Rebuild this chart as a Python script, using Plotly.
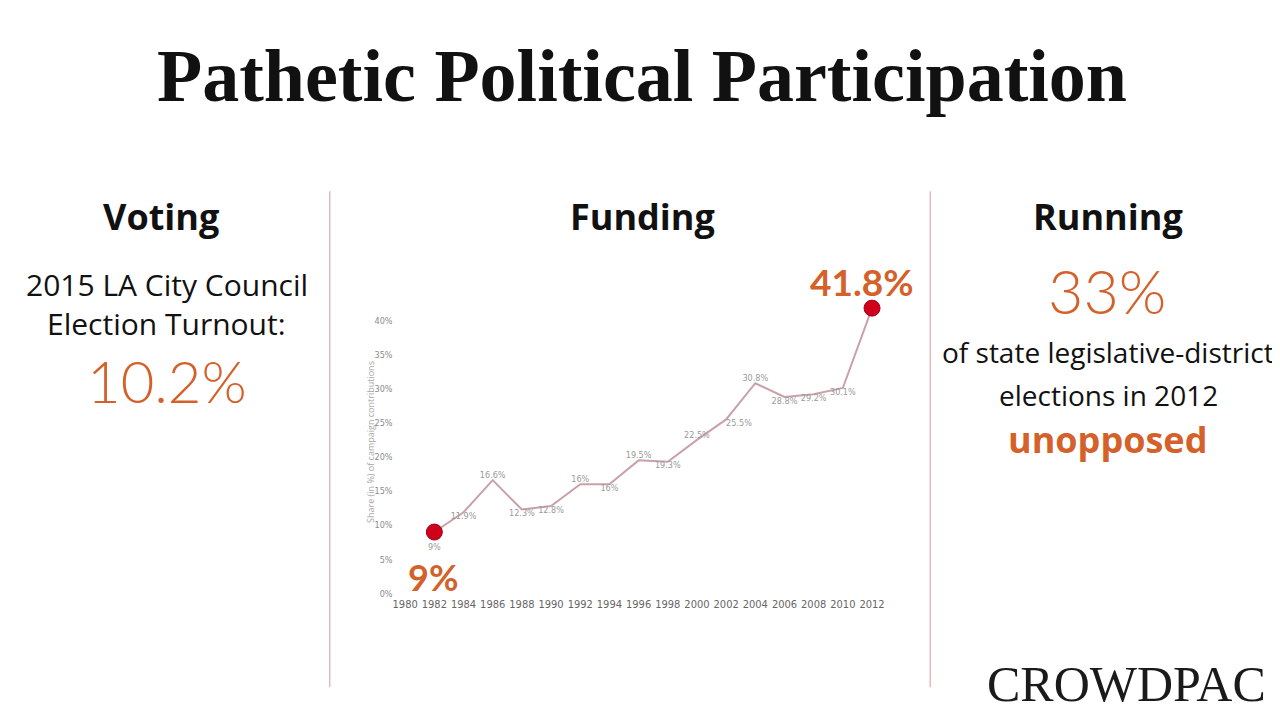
import plotly.graph_objects as go

# ---- data ----
years = [1982, 1984, 1986, 1988, 1990, 1992, 1994, 1996, 1998, 2000, 2002, 2004, 2006, 2008, 2010, 2012]
share = [9, 11.9, 16.6, 12.3, 12.8, 16, 16, 19.5, 19.3, 22.5, 25.5, 30.8, 28.8, 29.2, 30.1, 41.8]
x_ticks = list(range(1980, 2013, 2))
y_ticks = [0, 5, 10, 15, 20, 25, 30, 35, 40]
y_tick_labels = [f"{v}%" for v in y_ticks]

title = "Pathetic Political Participation"
headers = ["Voting", "Funding", "Running"]
voting_lines = ["2015 LA City Council", "Election Turnout:"]
voting_value = "10.2%"
running_value = "33%"
running_lines = ["of state legislative-district", "elections in 2012"]
running_emph = "unopposed"
logo = "CROWDPAC"

ORANGE = "#d4612a"
W, H = 1280, 720
OX, OY = 8, 8  # page body margin compensation


def px(x):
    return (x - OX) / W


def py(y):
    return 1 - (y - OY) / H


# label positions per point (style)
positions = ["bottom center", "bottom center", "top center", "bottom center", "bottom center",
             "top center", "bottom center", "top center", "bottom center", "top center",
             "bottom right", "top center", "bottom center", "bottom center", "bottom center", "top center"]
labels = [f"{v:g}%" for v in share]
labels[-1] = ""
sizes = [16 if i in (0, len(share) - 1) else 0 for i in range(len(share))]

NARROW = "Liberation Sans Narrow, DejaVu Sans Condensed, sans-serif"
SANS = "Open Sans, Lato, sans-serif"

fig = go.Figure()
fig.add_trace(go.Scatter(
    x=years, y=share,
    mode="lines+markers+text",
    line=dict(color="#c9a1a8", width=2),
    marker=dict(size=sizes, color="#d0021b", line=dict(color="#a0001a", width=1), opacity=1),
    text=labels, textposition=positions,
    textfont=dict(family=NARROW, size=9, color="#9a9a9a"),
    cliponaxis=False, hoverinfo="skip", showlegend=False,
))

fig.update_layout(
    width=W, height=H,
    margin=dict(l=0, r=0, t=0, b=0),
    paper_bgcolor="white", plot_bgcolor="white",
    xaxis=dict(domain=[px(392.8), px(893.6)], range=[1979.2, 2013.5],
               tickvals=x_ticks, ticktext=[str(v) for v in x_ticks], tickangle=0,
               showgrid=False, zeroline=False, showline=False, ticks="",
               tickfont=dict(family=NARROW, size=11, color="#666666")),
    yaxis=dict(domain=[py(598), py(294.3)], range=[-0.3, 44],
               tickvals=y_ticks, ticktext=y_tick_labels,
               showgrid=False, zeroline=False, showline=False, ticks="",
               tickfont=dict(family=NARROW, size=9, color="#8a8a8a")),
)

ann = []
# title
ann.append(dict(x=px(641), y=py(76), text=f"<b>{title}</b>", showarrow=False,
                font=dict(family="Liberation Serif, DejaVu Serif, serif", size=74, color="#111111")))
# headers
for hx, h in zip([160, 642, 1108], headers):
    ann.append(dict(x=px(hx), y=py(217), text=f"<b>{h}</b>", showarrow=False,
                    font=dict(family=SANS, size=36, color="#111111")))
# voting
for i, t in enumerate(voting_lines):
    ann.append(dict(x=px(166), y=py(286 + 39 * i), text=t, showarrow=False,
                    font=dict(family=SANS, size=30, color="#111111")))
ann.append(dict(x=px(166), y=py(382), text=voting_value, showarrow=False,
                font=dict(family="Lato, sans-serif", size=58, color=ORANGE, weight=300)))
# running
ann.append(dict(x=px(1107), y=py(292), text=running_value, showarrow=False,
                font=dict(family="Lato, sans-serif", size=61, color=ORANGE, weight=300)))
for i, t in enumerate(running_lines):
    ann.append(dict(x=px(1108), y=py(353 + 44 * i), text=t, showarrow=False,
                    font=dict(family=SANS, size=28, color="#111111")))
ann.append(dict(x=px(1107), y=py(441), text=f"<b>{running_emph}</b>", showarrow=False,
                font=dict(family=SANS, size=36, color=ORANGE)))
# chart callouts
ann.append(dict(x=years[0], y=share[0], xref="x", yref="y", text=f"<b>{share[0]:g}%</b>",
                showarrow=False, yshift=-45, xshift=-1,
                font=dict(family="Lato, sans-serif", size=36, color=ORANGE)))
ann.append(dict(x=years[-1], y=share[-1], xref="x", yref="y", text=f"<b>{share[-1]:g}%</b>",
                showarrow=False, yshift=27, xshift=-10,
                font=dict(family="Lato, sans-serif", size=37, color=ORANGE)))
# y-axis title
ann.append(dict(x=px(369), y=py(444), text="Share (in %) of campaign contributions", textangle=-90,
                showarrow=False, font=dict(family=SANS, size=9, color="#a8a8a8")))
# logo
ann.append(dict(x=px(1126), y=py(687), text=logo, showarrow=False,
                font=dict(family="Liberation Serif, DejaVu Serif, serif", size=50, color="#1a1a1a")))

for a in ann:
    a.setdefault("xref", "paper")
    a.setdefault("yref", "paper")
    a["xanchor"] = "center"
    a["yanchor"] = "middle"
fig.update_layout(annotations=ann)

# divider lines
for lx in [329, 930]:
    fig.add_shape(type="line", xref="paper", yref="paper",
                  x0=px(lx), x1=px(lx), y0=py(192), y1=py(690),
                  line=dict(color="#e6b9bd", width=1.5))

fig.write_html("out.html")
